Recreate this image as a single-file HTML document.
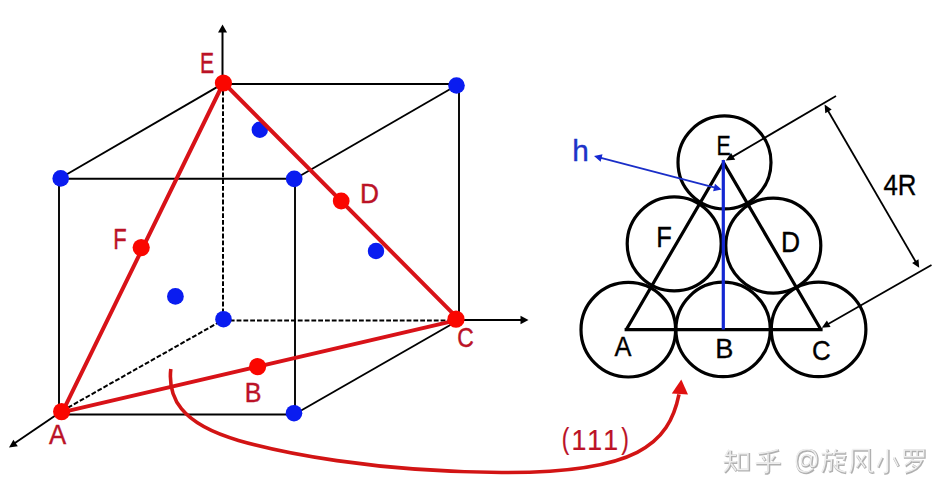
<!DOCTYPE html>
<html><head><meta charset="utf-8">
<style>
html,body{margin:0;padding:0;background:#fff;width:952px;height:500px;overflow:hidden}
svg{display:block}
text{font-family:"Liberation Sans",sans-serif}
.r{fill:#bb1226;stroke:#bb1226;stroke-width:1.5}
.r2{fill:#bb1226;stroke:#bb1226;stroke-width:0.8}
.k{fill:#000;stroke:#000;stroke-width:1.2}
.b{fill:#1e32c8;stroke:#1e32c8;stroke-width:1.2}
</style></head>
<body>
<svg width="952" height="500" viewBox="0 0 952 500">
<rect width="952" height="500" fill="#fff"/>

<!-- ===== cube black lines ===== -->
<g stroke="#000" stroke-width="1.9" fill="none" stroke-linecap="butt">
  <line x1="223" y1="84" x2="459" y2="84"/>
  <line x1="223" y1="83.6" x2="60" y2="178.2"/>
  <line x1="459" y1="84" x2="295" y2="178.7"/>
  <line x1="59" y1="178.7" x2="295" y2="178.7"/>
  <line x1="59" y1="178" x2="59" y2="414.5"/>
  <line x1="295" y1="178" x2="295" y2="414.5"/>
  <line x1="59" y1="414.5" x2="295" y2="414.5"/>
  <line x1="459" y1="84" x2="459" y2="320"/>
  <line x1="459" y1="320" x2="295" y2="414"/>
</g>
<g stroke="#000" stroke-width="2" fill="none" stroke-dasharray="4.8 2">
  <line x1="223" y1="84" x2="223" y2="320"/>
  <line x1="223" y1="320.5" x2="456" y2="320.5"/>
  <line x1="62" y1="411" x2="223" y2="320"/>
</g>
<!-- axes -->
<g stroke="#000" stroke-width="2" fill="none">
  <line x1="222.5" y1="84" x2="222.5" y2="27"/>
  <line x1="459" y1="320" x2="526" y2="320"/>
  <line x1="62" y1="411" x2="12" y2="445"/>
</g>
<path d="M222.5,24.5 L218.0,32.5 L227.0,32.5 z" fill="#000"/>
<path d="M528.5,320.0 L520.5,315.8 L520.5,324.2 z" fill="#000"/>
<path d="M9.0,447.5 L17.8,446.2 L13.4,439.8 z" fill="#000"/>

<!-- blue dots -->
<g fill="#0a1cf0">
  <circle cx="456.5" cy="85.5" r="8.3"/>
  <circle cx="60.7" cy="178.4" r="8.3"/>
  <circle cx="294.2" cy="178.9" r="8.3"/>
  <circle cx="294" cy="413.2" r="8.3"/>
  <circle cx="223.5" cy="319.2" r="8.3"/>
  <circle cx="259.8" cy="129.8" r="8.2"/>
  <circle cx="175.4" cy="296.4" r="8.4"/>
  <circle cx="376" cy="251" r="8.2"/>
</g>

<!-- red lines -->
<g stroke="#d81218" stroke-width="4" fill="none" stroke-linecap="round">
  <line x1="223.4" y1="83" x2="62.6" y2="411.6"/>
  <line x1="223.4" y1="82.5" x2="456" y2="316.6"/>
  <line x1="61.6" y1="412.4" x2="456" y2="320.4"/>
</g>
<g fill="#fa0600">
  <circle cx="223.4" cy="83" r="8.6"/>
  <circle cx="61.6" cy="411.6" r="8.6"/>
  <circle cx="456" cy="319.2" r="8.6"/>
  <circle cx="141.2" cy="247.6" r="8.6"/>
  <circle cx="341.2" cy="201" r="8.4"/>
  <circle cx="257.6" cy="366.6" r="8.6"/>
</g>

<!-- curved arrow -->
<path d="M170.8,369.0 C167.8,396.7 179.4,423.4 238.5,440.4 C279.8,452.3 371.8,471.7 501.5,472.5 C636.8,473.4 668.9,443.9 679.0,394.4" stroke="#d21414" stroke-width="3.6" fill="none"/>
<path d="M681.3,379.5 L671.8,393.5 L688,394.5 z" fill="#e01010"/>


<!-- ===== right diagram ===== -->
<g stroke="#000" stroke-width="3.2" fill="none">
  <circle cx="724.5" cy="162.4" r="46.5"/>
  <circle cx="674.2" cy="243.8" r="47"/>
  <circle cx="773.3" cy="245.6" r="47.5"/>
  <circle cx="628.3" cy="329.7" r="47.3"/>
  <circle cx="723.1" cy="329.4" r="47.2"/>
  <circle cx="818.6" cy="329.4" r="47.3"/>
  <path d="M626.2,329.7 L723.6,162.6 L821,329.7" stroke-linejoin="miter"/><path d="M624.6,329.7 L822.6,329.7"/>
</g>
<line x1="723.3" y1="160" x2="723.3" y2="329.5" stroke="#1428d2" stroke-width="3.2"/>
<g stroke="#1a2ec8" stroke-width="1.8">
  <line x1="600" y1="157.6" x2="715" y2="187.7"/>
</g>
<path d="M594.0,156.0 L600.6,161.7 L602.5,154.2 z" fill="#1428d2"/>
<path d="M721.6,189.5 L715.0,183.7 L713.1,191.3 z" fill="#1428d2"/>

<!-- dimension -->
<g stroke="#000" stroke-width="1.8" fill="none">
  <line x1="836" y1="96" x2="731" y2="157.6"/>
  <line x1="931.5" y1="265" x2="826" y2="325.2"/>
  <line x1="827" y1="109" x2="917" y2="264"/>
</g>
<path d="M725.8,160.6 L735.2,159.8 L731.1,152.9 z" fill="#000"/>
<path d="M821.8,327.8 L830.6,327.1 L826.9,320.5 z" fill="#000"/>
<path d="M824.6,104.6 L825.3,113.2 L831.7,109.5 z" fill="#000"/>
<path d="M919.2,267.8 L918.5,259.2 L912.1,262.9 z" fill="#000"/>

<!-- labels -->
<g font-size="100">
<text class="r" transform="matrix(0.2111 0 0 0.2899 199.91 73.00)">E</text>
<text class="r" transform="matrix(0.2204 0 0 0.2870 113.24 249.40)">F</text>
<text class="r" transform="matrix(0.2627 0 0 0.2826 359.90 203.00)">D</text>
<text class="r" transform="matrix(0.2509 0 0 0.2739 244.79 402.30)">B</text>
<text class="r" transform="matrix(0.2576 0 0 0.2812 49.00 444.40)">A</text>
<text class="r" transform="matrix(0.2286 0 0 0.2817 457.26 346.72)">C</text>
<text class="r2" transform="matrix(0.227 0 0 0.2926 561.64 448.76)">(</text><text class="r2" transform="matrix(0.2674 0 0 0.2913 571.46 449.6)">1</text><text class="r2" transform="matrix(0.2674 0 0 0.2913 587.16 449.6)">1</text><text class="r2" transform="matrix(0.2674 0 0 0.2913 603.36 449.6)">1</text><text class="r2" transform="matrix(0.227 0 0 0.2926 621.17 448.76)">)</text>
<text class="b" transform="matrix(0.2976 0 0 0.3000 572.32 161.10)">h</text>
<text class="k" transform="matrix(0.2130 0 0 0.2783 716.60 155.40)">E</text>
<text class="k" transform="matrix(0.2551 0 0 0.2899 656.16 247.00)">F</text>
<text class="k" transform="matrix(0.2644 0 0 0.2957 781.08 252.20)">D</text>
<text class="k" transform="matrix(0.2545 0 0 0.2783 614.40 356.40)">A</text>
<text class="k" transform="matrix(0.2717 0 0 0.2783 715.33 357.60)">B</text>
<text class="k" transform="matrix(0.2587 0 0 0.2704 812.01 359.73)">C</text>
<text class="k" transform="matrix(0.2583 0 0 0.2941 883.48 195.29)">4R</text>
</g>


<!-- watermark -->
<defs>
<g id="wmg" fill="none" stroke-linecap="butt" stroke-linejoin="miter">
 <g transform="translate(722.5,448) scale(0.27,0.255)">
  <path d="M24,6 L10,32 M14,28 L50,28 M4,54 L52,54 M28,8 L28,54 Q24,78 6,94 M32,62 L50,88 M60,22 L94,22 L94,84 L60,84 Z"/>
 </g>
 <g transform="translate(754.5,448) scale(0.27,0.255)">
  <path d="M88,6 Q55,18 14,22 M28,32 L38,48 M74,30 L62,48 M4,60 L96,60 M50,22 L50,90 Q50,98 36,95"/>
 </g>
 <g transform="translate(795,448) scale(0.23,0.25)">
  <path d="M78,82 Q60,96 46,96 Q6,96 6,52 Q6,6 52,6 Q94,6 94,46 Q94,74 76,74 Q66,74 68,60 L72,30 M70,42 Q64,28 50,28 Q30,28 28,52 Q28,70 44,70 Q60,70 68,50"/>
 </g>
 <g transform="translate(820.5,448) scale(0.26,0.255)">
  <path d="M22,4 L27,14 M4,22 L44,22 M20,22 Q20,70 6,94 M22,46 L42,46 L40,86 L30,90 M60,4 L50,28 M56,18 L96,18 M58,34 L92,34 L88,48 M64,48 L64,80 M64,62 L90,62 M52,64 Q60,90 96,94"/>
 </g>
 <g transform="translate(849,448) scale(0.25,0.255)">
  <path d="M14,6 L14,58 Q12,84 4,96 M14,6 L80,6 L80,84 Q82,96 98,92 M30,28 L64,76 M64,28 L30,76"/>
 </g>
 <g transform="translate(875,448) scale(0.25,0.255)">
  <path d="M50,4 L50,88 Q50,98 34,96 M28,36 L10,74 M74,36 L92,70"/>
 </g>
 <g transform="translate(903,448) scale(0.22,0.255)">
  <path d="M6,8 L94,8 L94,34 L6,34 Z M36,8 L36,34 M64,8 L64,34 M44,42 Q30,58 8,68 M40,50 L84,50 Q70,84 10,96 M40,66 L58,74"/>
 </g>
</g>
</defs>
<use href="#wmg" stroke="#b0b0b0" stroke-width="11" transform="translate(0.8,0.8)"/>
<use href="#wmg" stroke="#eeeeee" stroke-width="6"/>
</svg>
</body></html>
